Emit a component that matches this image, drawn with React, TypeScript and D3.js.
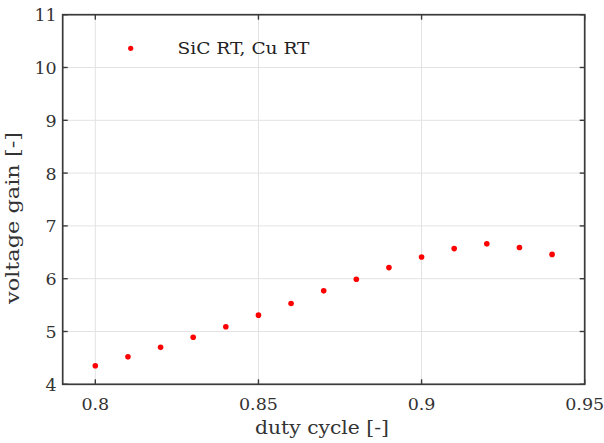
import React, { useEffect, useRef } from 'react';
import * as d3 from 'd3';

const dutyCycle = [0.8, 0.81, 0.82, 0.83, 0.84, 0.85, 0.86, 0.87, 0.88, 0.89, 0.9, 0.91, 0.92, 0.93, 0.94];
const voltageGain = [4.35, 4.52, 4.7, 4.89, 5.09, 5.31, 5.53, 5.77, 5.99, 6.21, 6.41, 6.57, 6.66, 6.59, 6.46];
const xTicks = [0.8, 0.85, 0.9, 0.95];
const yTicks = [4, 5, 6, 7, 8, 9, 10, 11];
const legendLabel = 'SiC RT, Cu RT';

const App: React.FC = () => {
  const svgRef = useRef<SVGSVGElement>(null);
  const WIDTH = 604;
  const HEIGHT = 443;
  const MARGIN = { top: 14.7, right: 19.3, bottom: 58.7, left: 62.7 };

  useEffect(() => {
    if (!svgRef.current) return;
    const svg = d3.select(svgRef.current);
    svg.selectAll('*').remove();

    const innerW = WIDTH - MARGIN.left - MARGIN.right;
    const innerH = HEIGHT - MARGIN.top - MARGIN.bottom;
    const g = svg.append('g').attr('transform', `translate(${MARGIN.left},${MARGIN.top})`);

    const x = d3.scaleLinear().domain([0.79, 0.95]).range([0, innerW]);
    const y = d3.scaleLinear().domain([4, 11]).range([innerH, 0]);

    // only DejaVu Serif renders as a real serif here
    const font = "'DejaVu Serif', serif";
    const axisColor = '#3a3a3a';
    const gridColor = '#e3e3e3';

    // grid
    g.selectAll('.gx').data(xTicks).enter().append('line')
      .attr('x1', d => x(d)).attr('x2', d => x(d))
      .attr('y1', 0).attr('y2', innerH)
      .attr('stroke', gridColor).attr('stroke-width', 1);
    g.selectAll('.gy').data(yTicks).enter().append('line')
      .attr('x1', 0).attr('x2', innerW)
      .attr('y1', d => y(d)).attr('y2', d => y(d))
      .attr('stroke', gridColor).attr('stroke-width', 1);

    // box
    g.append('rect')
      .attr('x', 0).attr('y', 0).attr('width', innerW).attr('height', innerH)
      .attr('fill', 'none').attr('stroke', axisColor).attr('stroke-width', 1.7);

    // inward ticks on all sides
    const tl = 5;
    xTicks.forEach(t => {
      g.append('line').attr('x1', x(t)).attr('x2', x(t)).attr('y1', innerH).attr('y2', innerH - tl)
        .attr('stroke', axisColor).attr('stroke-width', 1.4);
      g.append('line').attr('x1', x(t)).attr('x2', x(t)).attr('y1', 0).attr('y2', tl)
        .attr('stroke', axisColor).attr('stroke-width', 1.4);
      g.append('text')
        .attr('x', x(t)).attr('y', innerH + 25.5)
        .attr('text-anchor', 'middle')
        .style('font-family', font).style('font-size', '17.5px').attr('fill', '#333')
        .text(String(t));
    });
    yTicks.forEach(t => {
      g.append('line').attr('x1', 0).attr('x2', tl).attr('y1', y(t)).attr('y2', y(t))
        .attr('stroke', axisColor).attr('stroke-width', 1.4);
      g.append('line').attr('x1', innerW).attr('x2', innerW - tl).attr('y1', y(t)).attr('y2', y(t))
        .attr('stroke', axisColor).attr('stroke-width', 1.4);
      g.append('text')
        .attr('x', -6).attr('y', y(t) + 6.5)
        .attr('text-anchor', 'end')
        .style('font-family', font).style('font-size', '17.5px').attr('fill', '#333')
        .text(String(t));
    });

    // points
    g.selectAll('.pt').data(dutyCycle).enter().append('circle')
      .attr('cx', d => x(d))
      .attr('cy', (d, i) => y(voltageGain[i]))
      .attr('r', 2.8)
      .attr('fill', '#ff0000');

    // legend
    g.append('circle').attr('cx', 130.7 - MARGIN.left).attr('cy', 48.3 - MARGIN.top)
      .attr('r', 2.6).attr('fill', '#ff0000');
    g.append('text')
      .attr('x', 177.5 - MARGIN.left).attr('y', 54.5 - MARGIN.top)
      .attr('textLength', 132).attr('lengthAdjust', 'spacingAndGlyphs')
      .style('font-family', font).style('font-size', '16.5px').attr('fill', '#222')
      .text(legendLabel);

    // axis labels
    svg.append('text')
      .attr('x', 322).attr('y', 434)
      .attr('text-anchor', 'middle')
      .attr('textLength', 134).attr('lengthAdjust', 'spacingAndGlyphs')
      .style('font-family', font).style('font-size', '18px').attr('fill', '#333')
      .text('duty cycle [-]');
    svg.append('text')
      .attr('transform', 'translate(19,218) rotate(-90)')
      .attr('text-anchor', 'middle')
      .attr('textLength', 172).attr('lengthAdjust', 'spacingAndGlyphs')
      .style('font-family', font).style('font-size', '18px').attr('fill', '#333')
      .text('voltage gain [-]');
  }, []);

  return (
    <svg
      ref={svgRef}
      width={WIDTH}
      height={HEIGHT}
      style={{ position: 'absolute', left: 0, top: 0, background: '#fff' }}
    />
  );
};

export default App;
